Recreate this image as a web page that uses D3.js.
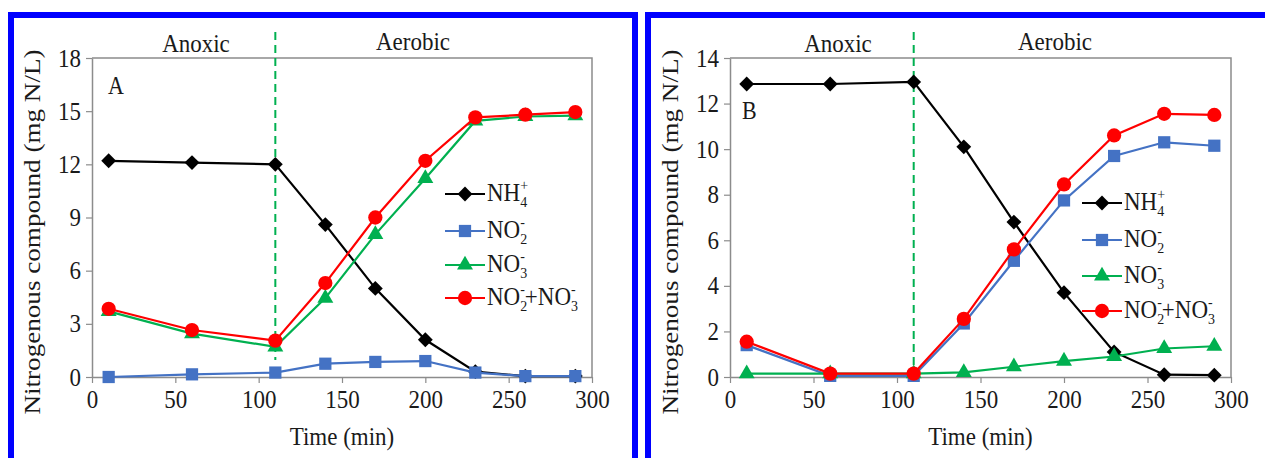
<!DOCTYPE html>
<html>
<head>
<meta charset="utf-8">
<script src="https://cdn.jsdelivr.net/npm/d3@7"></script>
<style>
  body { margin: 0; background: #fff; }
  text { font-family: "Liberation Serif", "Times New Roman", serif; fill: #1a1a1a; }
</style>
</head>
<body>
<svg id="chart" width="1265" height="458"></svg>
<script>
// sampling times (min)
const times = [10, 60, 110, 140, 170, 200, 230, 260, 290];
const xTicks = [0, 50, 100, 150, 200, 250, 300];

// panel A values (mg N/L)
const nh4A = [12.2, 12.1, 12.0, 8.6, 5.0, 2.1, 0.3, 0.05, 0.05];
const no2A = [0.0, 0.15, 0.25, 0.75, 0.85, 0.9, 0.25, 0.05, 0.05];
const no3A = [3.7, 2.45, 1.7, 4.45, 8.05, 11.2, 14.45, 14.7, 14.75];
const sumA = [3.85, 2.65, 2.05, 5.3, 9.0, 12.2, 14.65, 14.8, 14.95];
const yTicksA = [0, 3, 6, 9, 12, 15, 18];

// panel B values (mg N/L)
const nh4B = [12.86, 12.86, 12.95, 10.1, 6.8, 3.7, 1.1, 0.1, 0.08];
const no2B = [1.4, 0.05, 0.05, 2.35, 5.1, 7.75, 9.7, 10.3, 10.15];
const no3B = [0.15, 0.15, 0.15, 0.2, 0.45, 0.7, 0.9, 1.25, 1.35];
const sumB = [1.55, 0.15, 0.15, 2.55, 5.6, 8.45, 10.6, 11.55, 11.5];
const yTicksB = [0, 2, 4, 6, 8, 10, 12, 14];

const switchTime = 110;

// legend text pieces: [main, subscript, superscript]
const labelNH4 = [["NH", "4", "+"]];
const labelNO2 = [["NO", "2", "-"]];
const labelNO3 = [["NO", "3", "-"]];
const labelSum = [["NO", "2", "-"], ["+NO", "3", "-"]];

const seriesStyle = [
  { color: "#000000", shape: "diamond", label: labelNH4 },
  { color: "#4472C4", shape: "square", label: labelNO2 },
  { color: "#00B050", shape: "triangle", label: labelNO3 },
  { color: "#FF0000", shape: "circle", label: labelSum }
];

const STRETCH = "scale(1,1.1)";
const svg = d3.select("#chart");

function markerPath(shape) {
  if (shape === "diamond") return d3.symbol(d3.symbolSquare, 110)();
  if (shape === "square") return d3.symbol(d3.symbolSquare, 150)();
  if (shape === "triangle") return d3.symbol(d3.symbolTriangle, 110)();
  return d3.symbol(d3.symbolCircle, 160)();
}

function drawLabel(g, x, y, segs) {
  const t = g.append("text")
    .attr("transform", "translate(" + x + "," + y + ") " + STRETCH)
    .attr("font-size", 23);
  let shift = 0;
  segs.forEach(function (s) {
    t.append("tspan").attr("dy", -shift).text(s[0]);
    shift = 0;
    if (s[1]) {
      t.append("tspan").attr("font-size", 14).attr("dy", 5).text(s[1]);
      shift = 5;
    }
    if (s[2]) {
      t.append("tspan").attr("font-size", 14)
        .attr("dx", s[1] ? -7 : 0)
        .attr("dy", -10 - shift).text(s[2]);
      shift = -10;
    }
  });
}

function drawPanel(p) {
  const g = svg.append("g");

  g.append("rect")
    .attr("x", p.frame[0]).attr("y", 15)
    .attr("width", p.frame[1] - p.frame[0]).attr("height", 480)
    .attr("fill", "none").attr("stroke", "#0000FF").attr("stroke-width", 6);

  const x = d3.scaleLinear().domain([0, 300]).range([p.left, p.right]);
  const y = d3.scaleLinear().domain([0, p.yMax]).range([377, 58]);

  // plot area border (top and right)
  g.append("path")
    .attr("d", "M" + x(0) + "," + y(p.yMax) + "H" + x(300) + "V" + y(0))
    .attr("fill", "none").attr("stroke", "#8c8c8c").attr("stroke-width", 1.5);

  const xAxis = g.append("g")
    .attr("transform", "translate(0," + y(0) + ")")
    .call(d3.axisBottom(x).tickValues(xTicks).tickSize(6).tickSizeOuter(0).tickPadding(6));
  const yAxis = g.append("g")
    .attr("transform", "translate(" + x(0) + ",0)")
    .call(d3.axisLeft(y).tickValues(p.yTicks).tickSize(6).tickSizeOuter(0).tickPadding(5));
  [xAxis, yAxis].forEach(function (a) {
    a.select(".domain").attr("stroke", "#8c8c8c").attr("stroke-width", 1.5);
    a.selectAll(".tick line").attr("stroke", "#8c8c8c").attr("stroke-width", 1.2);
    a.selectAll(".tick text")
      .attr("font-size", 23).attr("font-family", "Liberation Serif, serif")
      .attr("fill", "#1a1a1a").attr("transform", STRETCH);
  });

  // phase divider
  g.append("line")
    .attr("x1", x(switchTime)).attr("x2", x(switchTime))
    .attr("y1", 32).attr("y2", p.dashEnd)
    .attr("stroke", "#00B050").attr("stroke-width", 2)
    .attr("stroke-dasharray", "8,5");

  g.append("text").attr("text-anchor", "middle").attr("font-size", 23)
    .attr("transform", "translate(" + p.anoxicX + ",52) " + STRETCH).text("Anoxic");
  g.append("text").attr("text-anchor", "middle").attr("font-size", 23)
    .attr("transform", "translate(" + p.aerobicX + ",50) " + STRETCH).text("Aerobic");

  g.append("text").attr("font-size", 22)
    .attr("transform", "translate(" + p.letterPos[0] + "," + p.letterPos[1] + ") " + STRETCH)
    .text(p.letter);

  g.append("text").attr("text-anchor", "middle").attr("font-size", 23)
    .attr("transform", "translate(" + ((p.left + p.right) / 2) + ",445) " + STRETCH)
    .text("Time (min)");

  g.append("text").attr("text-anchor", "middle").attr("font-size", 24)
    .attr("transform", "translate(" + p.titleX + ",232) scale(1,1.13) rotate(-90)")
    .text("Nitrogenous compound (mg N/L)");

  const line = d3.line().x(function (d) { return x(d[0]); }).y(function (d) { return y(d[1]); });

  p.series.forEach(function (vals, i) {
    const st = seriesStyle[i];
    const pts = times.map(function (t, j) { return [t, vals[j]]; });
    g.append("path").datum(pts).attr("d", line)
      .attr("fill", "none").attr("stroke", st.color).attr("stroke-width", 2.2);
    g.selectAll(null).data(pts).enter().append("path")
      .attr("d", markerPath(st.shape))
      .attr("transform", function (d) {
        return "translate(" + x(d[0]) + "," + y(d[1]) + ")" + (st.shape === "diamond" ? " rotate(45)" : "");
      })
      .attr("fill", st.color);
  });

  // legend
  seriesStyle.forEach(function (st, i) {
    const ly = p.legendY[i];
    const lx = p.legendX;
    g.append("line").attr("x1", lx - 20).attr("x2", lx + 20)
      .attr("y1", ly).attr("y2", ly)
      .attr("stroke", st.color).attr("stroke-width", 2.2);
    g.append("path").attr("d", markerPath(st.shape))
      .attr("transform", "translate(" + lx + "," + ly + ")" + (st.shape === "diamond" ? " rotate(45)" : ""))
      .attr("fill", st.color);
    drawLabel(g, lx + 22, ly + 7, st.label);
  });
}

drawPanel({
  frame: [11, 635], left: 92, right: 592, yMax: 18, yTicks: yTicksA,
  series: [nh4A, no2A, no3A, sumA], dashEnd: 360,
  anoxicX: 196, aerobicX: 413, letter: "A", letterPos: [108, 94], titleX: 40,
  legendX: 465, legendY: [194, 231, 265, 298]
});

drawPanel({
  frame: [648, 1290], left: 730, right: 1231, yMax: 14, yTicks: yTicksB,
  series: [nh4B, no2B, no3B, sumB], dashEnd: 377,
  anoxicX: 838, aerobicX: 1055, letter: "B", letterPos: [742, 119], titleX: 678,
  legendX: 1102, legendY: [203, 240, 276, 311]
});
</script>
</body>
</html>
